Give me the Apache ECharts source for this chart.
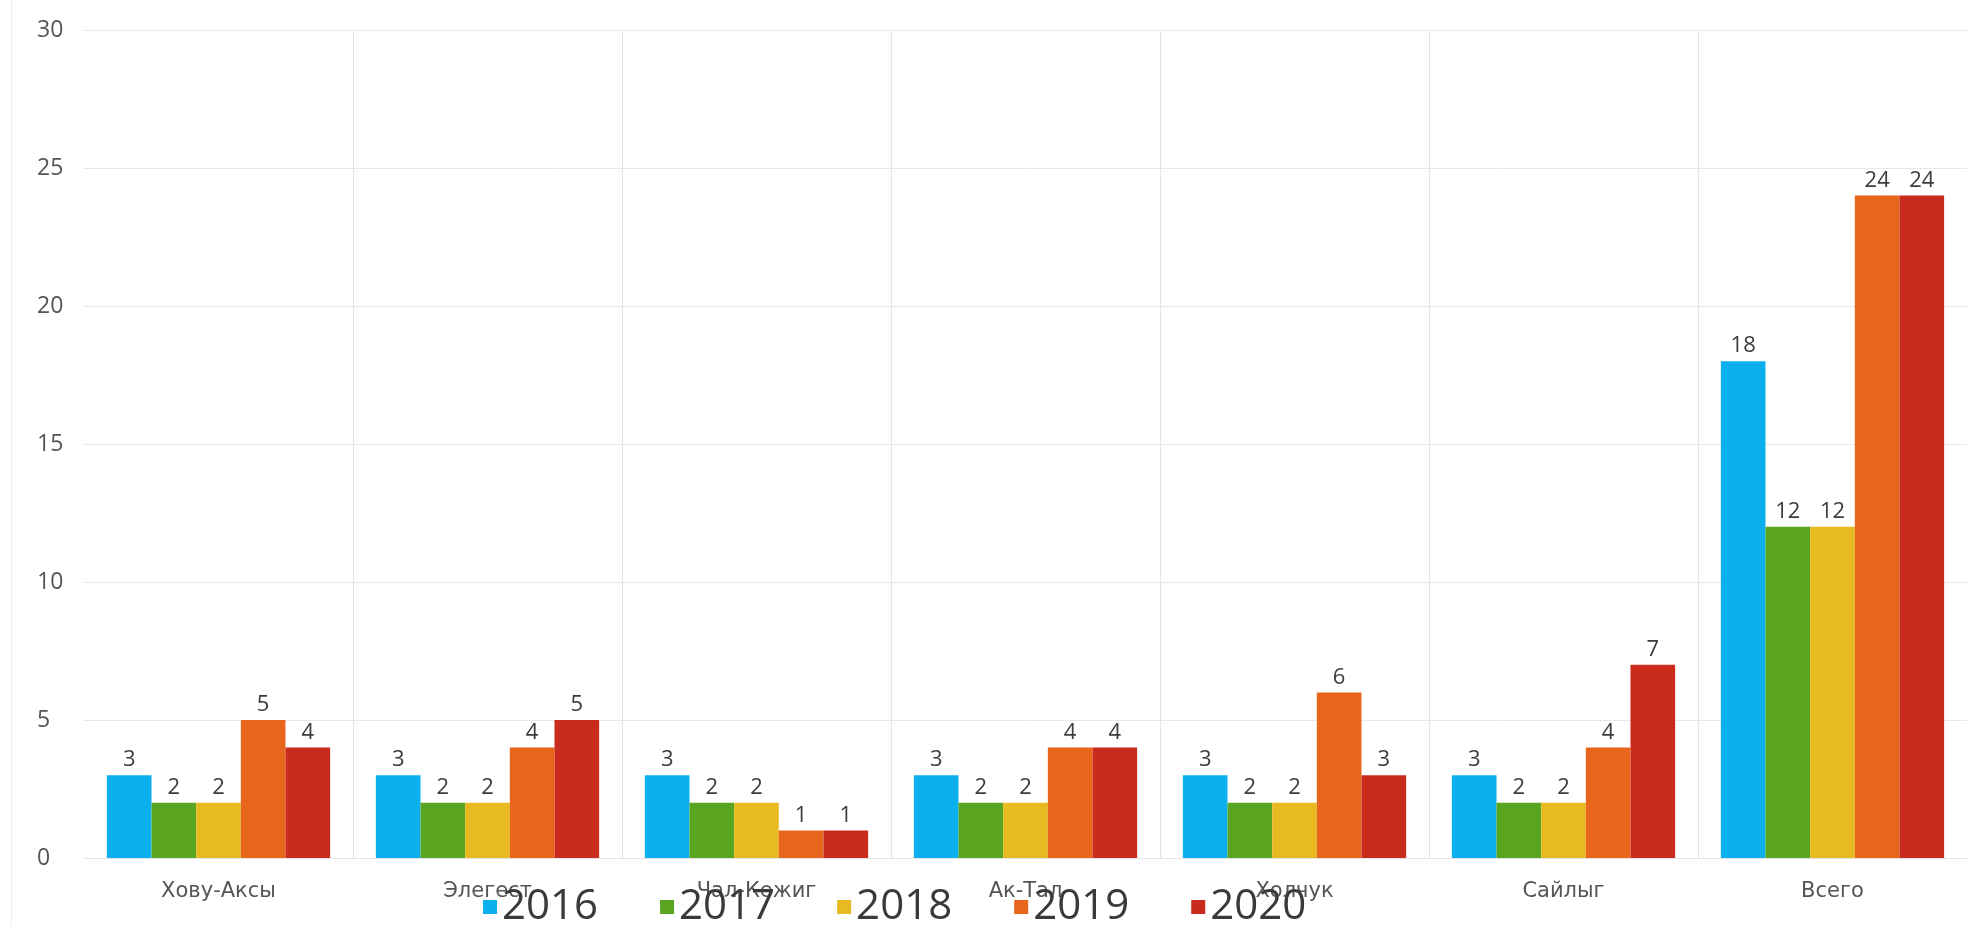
<!DOCTYPE html>
<html>
<head>
<meta charset="utf-8">
<style>
  html, body { margin: 0; padding: 0; background: #ffffff; }
  #chart { width: 1967px; height: 926px; }
</style>
<script src="https://cdn.jsdelivr.net/npm/echarts@6/dist/echarts.min.js"></script>
</head>
<body>
<div id="chart"></div>
<script>
// Settlements of the kozhuun plus the overall total
const categories = ['Хову-Аксы', 'Элегест', 'Чал-Кежиг', 'Ак-Тал', 'Холчук', 'Сайлыг', 'Всего'];

const years = ['2016', '2017', '2018', '2019', '2020'];

const values2016 = [3, 3, 3, 3, 3, 3, 18];
const values2017 = [2, 2, 2, 2, 2, 2, 12];
const values2018 = [2, 2, 2, 2, 2, 2, 12];
const values2019 = [5, 4, 1, 4, 6, 4, 24];
const values2020 = [4, 5, 1, 4, 3, 7, 24];

const yearColors = ['#0cb0ee', '#59a520', '#e7ba22', '#e8661b', '#c92c1c'];

const seriesValues = [values2016, values2017, values2018, values2019, values2020];

const FONT = '"Open Sans", "DejaVu Sans", sans-serif';

const chart = echarts.init(document.getElementById('chart'), null, { renderer: 'canvas' });

chart.setOption({
  backgroundColor: '#ffffff',
  animation: false,
  color: yearColors,
  graphic: [
    {
      type: 'line',
      shape: { x1: 11.5, y1: 0, x2: 11.5, y2: 926 },
      style: { stroke: '#ececec', lineWidth: 1 }
    }
  ],
  grid: {
    left: 84,
    right: -5,
    top: 30,
    bottom: 68,
    containLabel: false
  },
  legend: {
    data: years,
    left: 478,
    top: 881,
    icon: 'rect',
    itemWidth: 14,
    itemHeight: 14,
    itemGap: 62,
    textStyle: {
      fontFamily: FONT,
      fontSize: 42,
      color: '#3a3a3a',
      lineHeight: 42
    }
  },
  xAxis: {
    type: 'category',
    data: categories,
    boundaryGap: true,
    axisLine: { show: true, lineStyle: { color: '#e4e4e4', width: 1 } },
    axisTick: { show: false },
    axisLabel: {
      fontFamily: '"DejaVu Sans", sans-serif',
      fontSize: 21,
      color: '#555555',
      margin: 23
    },
    splitLine: {
      show: true,
      showMinLine: false,
      lineStyle: { color: '#e4e4e4', width: 1 }
    }
  },
  yAxis: {
    type: 'value',
    min: 0,
    max: 30,
    interval: 5,
    axisLine: { show: false },
    axisTick: { show: false },
    axisLabel: {
      fontFamily: FONT,
      fontSize: 23,
      color: '#555555',
      align: 'left',
      margin: 47
    },
    splitLine: {
      show: true,
      lineStyle: { color: '#e8e8e8', width: 1 }
    }
  },
  series: years.map((year, i) => ({
    name: year,
    type: 'bar',
    data: seriesValues[i],
    barGap: '0%',
    barCategoryGap: '17%',
    itemStyle: { color: yearColors[i] },
    label: {
      show: true,
      position: 'top',
      distance: 4,
      fontFamily: FONT,
      fontSize: 22,
      color: '#3c3c3c'
    }
  }))
});
</script>
</body>
</html>
